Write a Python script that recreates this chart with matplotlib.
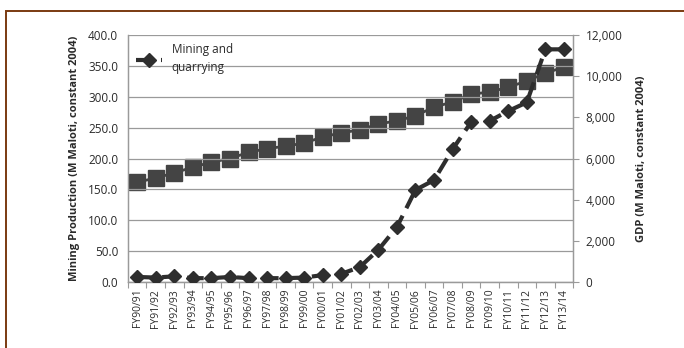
import numpy as np
import matplotlib.pyplot as plt
from matplotlib.ticker import FuncFormatter, FixedLocator
from matplotlib.patches import Rectangle

years = ["FY90/91", "FY91/92", "FY92/93", "FY93/94", "FY94/95", "FY95/96",
         "FY96/97", "FY97/98", "FY98/99", "FY99/00", "FY00/01", "FY01/02",
         "FY02/03", "FY03/04", "FY04/05", "FY05/06", "FY06/07", "FY07/08",
         "FY08/09", "FY09/10", "FY10/11", "FY11/12", "FY12/13", "FY13/14"]

# mining and quarrying output, M Maloti (constant 2004)
mining = [8, 7, 9, 6, 6, 8, 6, 6, 6, 7, 11, 13,
          24, 52, 89, 149, 165, 215, 259, 261, 277, 291, 377, 377]

# GDP, M Maloti (constant 2004)
gdp = [4850, 5050, 5300, 5580, 5820, 6000, 6300, 6480, 6600, 6750, 7050, 7250,
       7390, 7680, 7830, 8080, 8500, 8750, 9130, 9230, 9470, 9770, 10150, 10450]

plt.rcParams['font.family'] = ['Open Sans', 'DejaVu Sans']
text_col = '#2a2a2a'
grid_col = '#9a9a9a'

fig = plt.figure(figsize=(6.84, 3.48), dpi=100)
ax = fig.add_axes([0.187, 0.190, 0.651, 0.709])
ax2 = ax.twinx()
ax.set_zorder(2)
ax.patch.set_visible(False)

x = np.arange(len(years))

ax2.plot(x, gdp, marker='s', markersize=11, color='#444444', linestyle='-',
         linewidth=2, zorder=3)
ax.plot(x, mining, marker='D', markersize=7.5, color='#2e2e2e', linestyle=(0, (4, 2)),
        linewidth=3, label='Mining and\nquarrying', zorder=4)

ax.set_xlim(-0.5, len(years) - 0.5)
ax.set_ylim(0, 400)
ax2.set_ylim(0, 12000)

ax.set_yticks(np.arange(0, 401, 50))
ax.yaxis.set_major_formatter(FuncFormatter(lambda v, p: f"{v:.1f}"))
ax2.set_yticks(np.arange(0, 12001, 2000))
ax2.yaxis.set_major_formatter(FuncFormatter(lambda v, p: f"{int(v):,}"))

ax.grid(axis='y', color=grid_col, linewidth=0.9)
ax.set_axisbelow(True)

ax.set_xticks(x)
ax.set_xticklabels(years, rotation=90, fontsize=7.5, color=text_col)
ax.tick_params(axis='x', which='major', length=0, pad=5)
ax.xaxis.set_minor_locator(FixedLocator(np.arange(-0.5, len(years), 1)))
ax.tick_params(axis='x', which='minor', length=4, color=grid_col, width=0.8)
ax.tick_params(axis='y', length=0, labelsize=8.5, labelcolor=text_col, pad=7)
ax2.tick_params(axis='y', length=4, color=grid_col, labelsize=8.5,
                labelcolor=text_col, pad=5)

for a in (ax, ax2):
    a.spines['top'].set_visible(False)
    for side in ('left', 'right', 'bottom'):
        a.spines[side].set_color(grid_col)
        a.spines[side].set_linewidth(0.9)

ax.set_ylabel("Mining Production (M Maloti, constant 2004)", fontsize=8,
              fontweight='bold', color=text_col, labelpad=6)
ax2.set_ylabel("GDP (M Maloti, constant 2004)", fontsize=8,
               fontweight='bold', color=text_col, labelpad=10)

leg = ax.legend(loc='upper left', bbox_to_anchor=(0.0, 1.0), frameon=False,
                fontsize=8.5, handlelength=2.2, borderaxespad=0.3)
for t in leg.get_texts():
    t.set_color(text_col)
    t.set_linespacing(1.5)

# brown frame round the figure
fig.patches.append(Rectangle((6 / 684, -0.1), 1.2, 1 - 11 / 348 + 0.1,
                             transform=fig.transFigure, fill=False,
                             edgecolor='#7a3a10', linewidth=1.4))

fig.savefig("out.png", dpi=100)
